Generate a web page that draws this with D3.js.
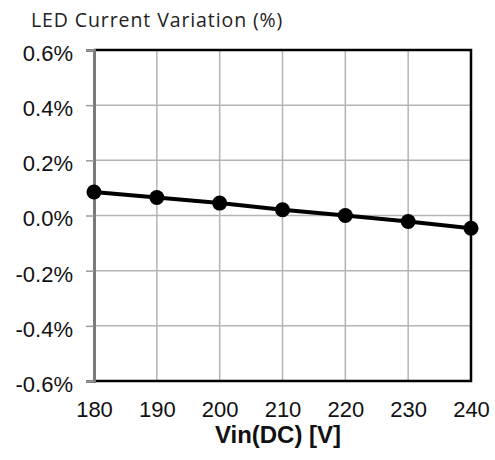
<!DOCTYPE html>
<html><head><meta charset="utf-8">
<script src="https://cdn.jsdelivr.net/npm/d3@7"></script>
<style>body{margin:0;background:#fff;}svg{display:block;}</style>
</head><body>
<svg id="c" width="495" height="460"></svg>
<script>
const vin = [180, 190, 200, 210, 220, 230, 240];
const variation = [0.085, 0.065, 0.045, 0.021, 0.0, -0.022, -0.046];
const yTicks = [-0.6, -0.4, -0.2, 0.0, 0.2, 0.4, 0.6];
const xTicks = [180, 190, 200, 210, 220, 230, 240];
const title = "LED Current Variation (%)";
const xTitle = "Vin(DC) [V]";

const svg = d3.select("#c");
const L = 94, R = 471, T = 50, B = 381;
const x = d3.scaleLinear().domain([180, 240]).range([L, R]);
const y = d3.scaleLinear().domain([-0.6, 0.6]).range([B, T]);

// grid
svg.append("g").selectAll("line").data(xTicks.slice(1, -1)).join("line")
  .attr("x1", d => x(d)).attr("x2", d => x(d)).attr("y1", T).attr("y2", B)
  .attr("stroke", "#b4b4b4").attr("stroke-width", 1.5);
svg.append("g").selectAll("line").data(yTicks.slice(1, -1)).join("line")
  .attr("x1", L).attr("x2", R).attr("y1", d => y(d)).attr("y2", d => y(d))
  .attr("stroke", "#b4b4b4").attr("stroke-width", 1.5);

// border top/right/bottom
svg.append("path").attr("d", `M${L},${T}H${R}V${B}H${L}`)
  .attr("fill", "none").attr("stroke", "#000").attr("stroke-width", 2.5);

// left axis
const fmt = d => (d < 0 ? "-" : "") + d3.format(".1f")(Math.abs(d)) + "%";
const yAxis = d3.axisLeft(y).tickValues(yTicks).tickSize(8).tickFormat(fmt);
const gy = svg.append("g").attr("transform", `translate(${L},0)`).call(yAxis);
gy.select(".domain").attr("stroke", "#7a7a7a").attr("stroke-width", 3);
gy.selectAll(".tick line").attr("stroke", "#9a9a9a").attr("stroke-width", 1.5);
gy.selectAll("text").attr("font-family", "Liberation Sans, Arial, sans-serif")
  .attr("font-size", 22).attr("fill", "#111")
  .attr("x", -21).attr("dy", "0.47em");

// bottom axis labels
const xAxis = d3.axisBottom(x).tickValues(xTicks).tickSize(0);
const gx = svg.append("g").attr("transform", `translate(0,${B})`).call(xAxis);
gx.select(".domain").remove();
gx.selectAll("text").attr("font-family", "Liberation Sans, Arial, sans-serif")
  .attr("font-size", 22).attr("fill", "#111")
  .attr("y", 35.5).attr("dy", 0);

// line and points
svg.append("path").datum(vin.map((v, i) => [v, variation[i]]))
  .attr("d", d3.line().x(d => x(d[0])).y(d => y(d[1])))
  .attr("fill", "none").attr("stroke", "#000").attr("stroke-width", 4);
svg.append("g").selectAll("circle").data(vin).join("circle")
  .attr("cx", d => x(d)).attr("cy", (d, i) => y(variation[i])).attr("r", 7.5)
  .attr("fill", "#000");

// titles
svg.append("text").attr("x", 31).attr("y", 27).text(title)
  .attr("font-family", "Open Sans, sans-serif").attr("font-size", 19.5)
  .attr("letter-spacing", 0.9).attr("fill", "#222");
svg.append("text").attr("x", 278).attr("y", 443).attr("text-anchor", "middle").text(xTitle)
  .attr("font-family", "Liberation Sans, Arial, sans-serif").attr("font-weight", "bold")
  .attr("font-size", 24).attr("fill", "#111");
</script>
</body></html>
